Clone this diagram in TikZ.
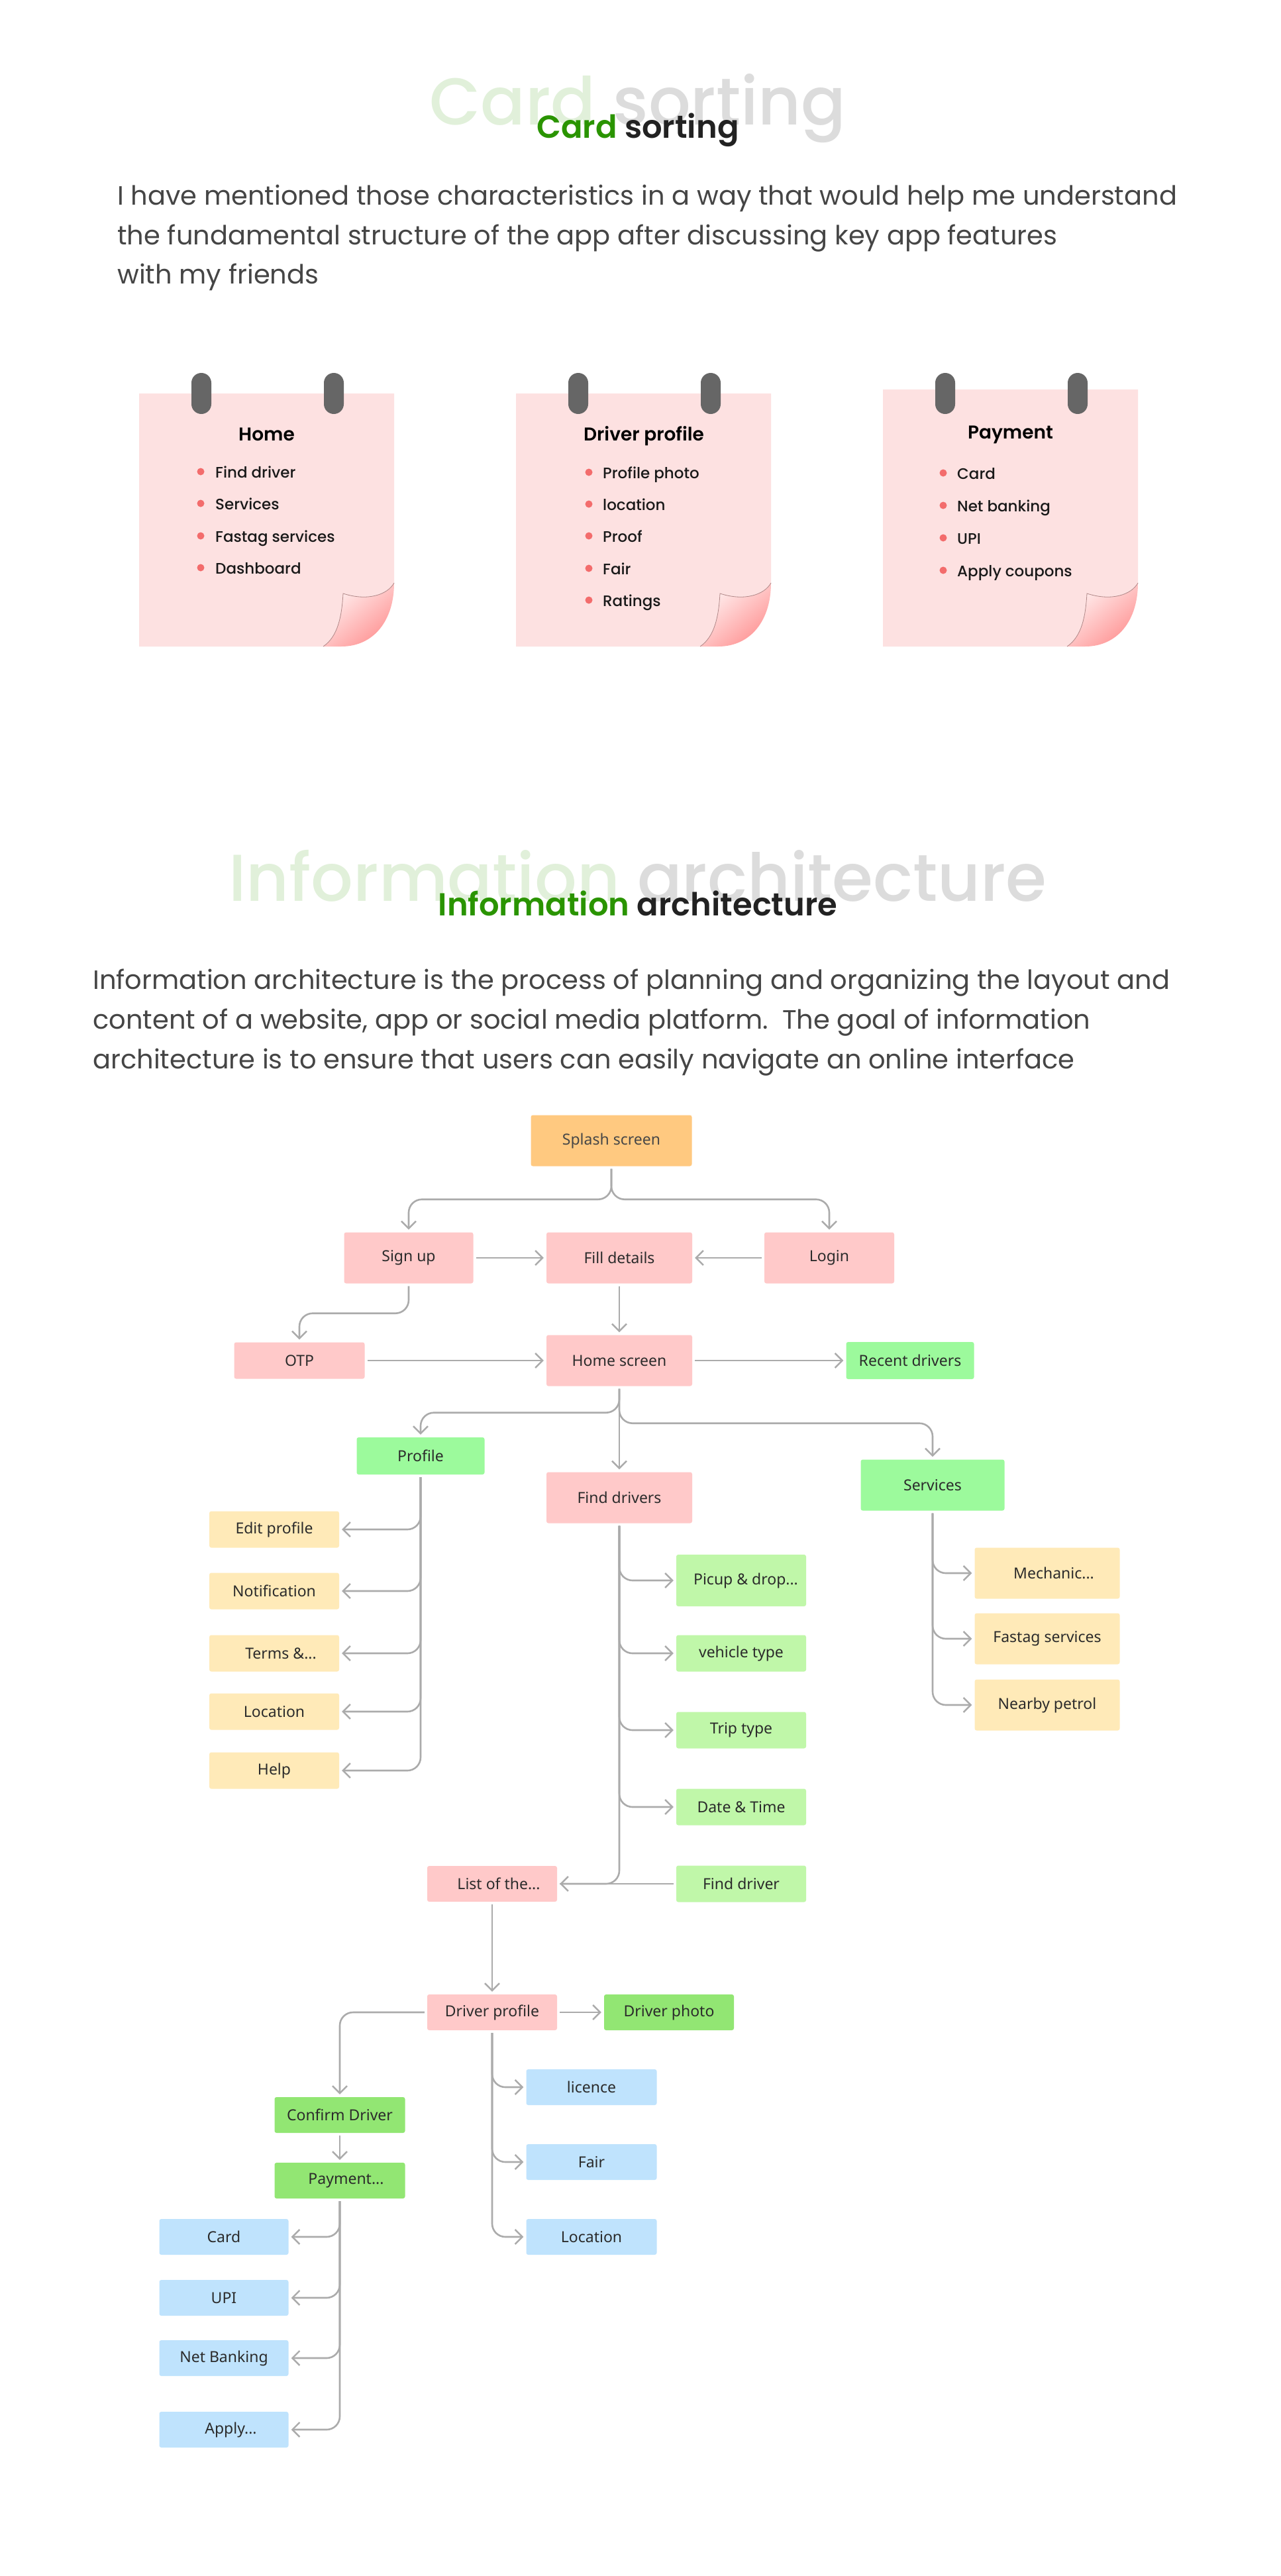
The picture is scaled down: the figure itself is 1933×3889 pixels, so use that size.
\documentclass[tikz,border=0pt]{standalone}
\usepackage{fontspec}
\usetikzlibrary{arrows.meta}
\setmainfont{Poppins}
\newfontfamily\popreg{Poppins}
\newfontfamily\popmed{Poppins Medium}
\newfontfamily\popsemi{Poppins SemiBold}
\newfontfamily\flowfont{Noto Sans}

% heading and body colours
\definecolor{headgreen}{HTML}{2A9400}
\definecolor{headdark}{HTML}{222222}
\definecolor{ghostgreen}{HTML}{E1F0DA}
\definecolor{ghostgray}{HTML}{DCDCDC}
\definecolor{bodygray}{HTML}{454545}
% sticky notes
\definecolor{notepink}{HTML}{FDE1E1}
\definecolor{ringgray}{HTML}{666666}
\definecolor{dotred}{HTML}{F36C6C}
\definecolor{curllight}{HTML}{FFF2F2}
\definecolor{curldark}{HTML}{FF9494}
\definecolor{curledge}{HTML}{B08888}
% flow chart
\definecolor{splashc}{HTML}{FFC980}
\definecolor{pinkc}{HTML}{FFC9C9}
\definecolor{greenc}{HTML}{9CFA9C}
\definecolor{lgreenc}{HTML}{C0F7A9}
\definecolor{dgreenc}{HTML}{92E673}
\definecolor{yellowc}{HTML}{FFEAB8}
\definecolor{bluec}{HTML}{BFE3FD}
\definecolor{linegray}{HTML}{ABABAB}
\definecolor{boxtext}{HTML}{2B2B2B}

% one sticky note: #1 = left edge, #2 = top edge (bottom at 976, width 385)
\newcommand{\notecard}[2]{%
  \begin{scope}[shift={(#1,0)}]
    \fill[notepink] (0,#2) -- (385,#2) -- (385,880)
      .. controls (375,898) and (345,908) .. (308,896)
      .. controls (306,931) and (300,961) .. (278,976) -- (0,976) -- cycle;
    \shade[top color=curllight, bottom color=curldark, shading angle=40]
      (308,896) .. controls (345,908) and (375,898) .. (385,880)
      .. controls (385,936) and (355,976) .. (305,976) -- (278,976)
      .. controls (300,961) and (306,931) .. (308,896) -- cycle;
    \draw[curledge, line width=0.8pt]
      (385,880) .. controls (375,898) and (345,908) .. (308,896)
      .. controls (306,931) and (300,961) .. (278,976);
    \fill[ringgray, rounded corners=15pt] (79,563) rectangle (109,625);
    \fill[ringgray, rounded corners=15pt] (279,563) rectangle (309,625);
  \end{scope}}

\begin{document}
\begin{tikzpicture}[x=1pt,y=-1pt,
  cardtitle/.style={anchor=base, inner sep=0pt, font=\popsemi\fontsize{28}{33}\selectfont, text=black},
  carditem/.style={anchor=base west, inner sep=0pt, font=\popmed\fontsize{23}{28}\selectfont, text=black!90},
  bodytext/.style={anchor=base west, inner sep=0pt, font=\popreg\fontsize{40}{48}\selectfont, text=bodygray},
  ghost/.style={anchor=base, inner sep=0pt, font=\popmed\fontsize{100}{120}\selectfont},
  heading/.style={anchor=base, inner sep=0pt, font=\popsemi\fontsize{48}{58}\selectfont},
  box/.style={rectangle, rounded corners=3pt, inner sep=0pt, minimum width=196pt,
    minimum height=55pt, font=\flowfont\fontsize{23}{27}\selectfont, text=boxtext},
  tall/.style={minimum height=77pt},
  conn/.style={draw=linegray, line width=2.6pt, rounded corners=20pt,
    shorten <=4pt, shorten >=4pt,
    -{Straight Barb[length=11pt,width=22pt,line width=2.4pt]}},
  link/.style={draw=linegray, line width=2.6pt, rounded corners=20pt, shorten <=4pt, shorten >=4pt}
]
\useasboundingbox (0,0) rectangle (1933,3889);
\fill[white] (0,0) rectangle (1933,3889);

% ---------------- Card sorting ----------------
\node[ghost] (ghost1) at (963,188) {\textcolor{ghostgreen}{Card} \textcolor{ghostgray}{sorting}};
\node[heading] (head1) at (963,208) {\textcolor{headgreen}{Card} \textcolor{headdark}{sorting}};

\node[bodytext] (p1a) at (177,309) {I have mentioned those characteristics in a way that would help me understand};
\node[bodytext] (p1b) at (177,369) {the fundamental structure of the app after discussing key app features};
\node[bodytext] (p1c) at (177,428) {with my friends};

\notecard{210}{594}
\notecard{779}{594}
\notecard{1333}{588}

% Home card
\node[cardtitle] (homet) at (402.5,665) {Home};
\foreach \y/\t [count=\i] in {721/Find driver, 769/Services, 818/Fastag services, 866/Dashboard}{
  \fill[dotred] (303,\y-9) circle (5.5);
  \node[carditem] (hi\i) at (325,\y) {\t};
}
% Driver profile card
\node[cardtitle] (drvt) at (972,665) {Driver profile};
\foreach \y/\t [count=\i] in {722/Profile photo, 770/location, 818/Proof, 867/Fair, 915/Ratings}{
  \fill[dotred] (889,\y-9) circle (5.5);
  \node[carditem] (di\i) at (910,\y) {\t};
}
% Payment card
\node[cardtitle] (payt) at (1525.5,662) {Payment};
\foreach \y/\t [count=\i] in {723/Card, 772/Net banking, 821/UPI, 870/Apply coupons}{
  \fill[dotred] (1424,\y-9) circle (5.5);
  \node[carditem] (pi\i) at (1445,\y) {\t};
}

% ---------------- Information architecture ----------------
\node[ghost] (ghost2) at (963,1360) {\textcolor{ghostgreen}{Information} \textcolor{ghostgray}{architecture}};
\node[heading] (head2) at (963,1382) {\textcolor{headgreen}{Information} \textcolor{headdark}{architecture}};

\node[bodytext] (p2a) at (140,1493) {Information architecture is the process of planning and organizing the layout and};
\node[bodytext] (p2b) at (140,1553) {content of a website, app or social media platform.\ \ The goal of information};
\node[bodytext] (p2c) at (140,1613) {architecture is to ensure that users can easily navigate an online interface};

% ---------------- Flow chart nodes ----------------
\node[box, tall, fill=splashc, minimum width=243pt, text=black!72] (splash) at (923,1722) {Splash screen};
\node[box, tall, fill=pinkc, minimum width=195pt] (signup) at (617,1899) {Sign up};
\node[box, tall, fill=pinkc, minimum width=220pt] (fill) at (935,1899) {Fill details};
\node[box, tall, fill=pinkc] (login) at (1252,1899) {Login};
\node[box, fill=pinkc, minimum width=197pt] (otp) at (452,2054) {OTP};
\node[box, tall, fill=pinkc, minimum width=220pt] (home) at (935,2054) {Home screen};
\node[box, fill=greenc, minimum width=193pt, minimum height=56pt] (recent) at (1374,2054) {Recent drivers};

\node[box, fill=greenc, minimum width=193pt, minimum height=56pt] (profile) at (635,2198) {Profile};
\node[box, tall, fill=pinkc, minimum width=220pt] (finddrivers) at (935,2261) {Find drivers};
\node[box, tall, fill=greenc, minimum width=217pt] (services) at (1408,2242) {Services};

\node[box, fill=yellowc] (edit) at (414,2309) {Edit profile};
\node[box, fill=yellowc] (notif) at (414,2402) {Notification};
\node[box, fill=yellowc] (terms) at (414,2496) {\hspace*{20pt}Terms \&...};
\node[box, fill=yellowc] (ploc) at (414,2584) {Location};
\node[box, fill=yellowc] (help) at (414,2673) {Help};

\node[box, fill=lgreenc, minimum height=78pt] (picup) at (1119,2386) {\hspace*{14pt}Picup \& drop...};
\node[box, fill=lgreenc] (vehicle) at (1119,2496) {vehicle type};
\node[box, fill=lgreenc] (trip) at (1119,2612) {Trip type};
\node[box, fill=lgreenc] (datetime) at (1119,2728) {Date \& Time};
\node[box, fill=lgreenc] (finddriver) at (1119,2844) {Find driver};

\node[box, tall, fill=yellowc, minimum width=219pt] (mech) at (1581,2375) {\hspace*{20pt}Mechanic...};
\node[box, tall, fill=yellowc, minimum width=219pt] (fastag) at (1581,2474) {Fastag services};
\node[box, tall, fill=yellowc, minimum width=219pt] (petrol) at (1581,2574) {Nearby petrol};

\node[box, fill=pinkc, minimum height=54pt] (list) at (743,2844) {\hspace*{20pt}List of the...};
\node[box, fill=pinkc, minimum height=54pt] (dprofile) at (743,3038) {Driver profile};
\node[box, fill=dgreenc, minimum height=54pt] (dphoto) at (1010,3038) {Driver photo};

\node[box, fill=dgreenc, minimum width=197pt, minimum height=54pt] (confirm) at (513,3193) {Confirm Driver};
\node[box, fill=dgreenc, minimum width=197pt, minimum height=54pt] (payment) at (513,3292) {\hspace*{19pt}Payment...};

\node[box, fill=bluec, minimum width=197pt, minimum height=54pt] (licence) at (893,3151) {licence};
\node[box, fill=bluec, minimum width=197pt, minimum height=54pt] (fair) at (893,3264) {Fair};
\node[box, fill=bluec, minimum width=197pt, minimum height=54pt] (dloc) at (893,3377) {Location};

\node[box, fill=bluec, minimum width=195pt, minimum height=54pt] (card) at (338,3377) {Card};
\node[box, fill=bluec, minimum width=195pt, minimum height=54pt] (upi) at (338,3469) {UPI};
\node[box, fill=bluec, minimum width=195pt, minimum height=54pt] (netbank) at (338,3560) {Net Banking};
\node[box, fill=bluec, minimum width=195pt, minimum height=54pt] (apply) at (338,3668) {\hspace*{21pt}Apply...};

% ---------------- Flow chart connectors ----------------
\draw[conn] (splash.south) -- ++(0,50) -| (signup.north);
\draw[conn] (splash.south) -- ++(0,50) -| (login.north);
\draw[conn] (signup.east) -- (fill.west);
\draw[conn] (login.west) -- (fill.east);
\draw[conn] (signup.south) -- ++(0,45) -| (otp.north);
\draw[conn] (fill.south) -- (home.north);
\draw[conn] (otp.east) -- (home.west);
\draw[conn] (home.east) -- (recent.west);

\draw[conn] (home.south) -- ++(0,40) -| (profile.north);
\draw[conn] (home.south) -- (finddrivers.north);
\draw[conn] (home.south) -- ++(0,56) -| (services.north);

\foreach \n in {edit, notif, terms, ploc, help}
  \draw[conn] (profile.south) |- (\n.east);
\foreach \n in {picup, vehicle, trip, datetime}
  \draw[conn] (finddrivers.south) |- (\n.west);
\draw[conn] (finddrivers.south) |- (list.east);
\draw[link] (finddriver.west) -- (list.east);
\foreach \n in {mech, fastag, petrol}
  \draw[conn] (services.south) |- (\n.west);

\draw[conn] (list.south) -- (dprofile.north);
\draw[conn] (dprofile.east) -- (dphoto.west);
\draw[conn] (dprofile.west) -| (confirm.north);
\foreach \n in {licence, fair, dloc}
  \draw[conn] (dprofile.south) |- (\n.west);
\draw[conn] (confirm.south) -- (payment.north);
\foreach \n in {card, upi, netbank, apply}
  \draw[conn] (payment.south) |- (\n.east);
\end{tikzpicture}
\end{document}
